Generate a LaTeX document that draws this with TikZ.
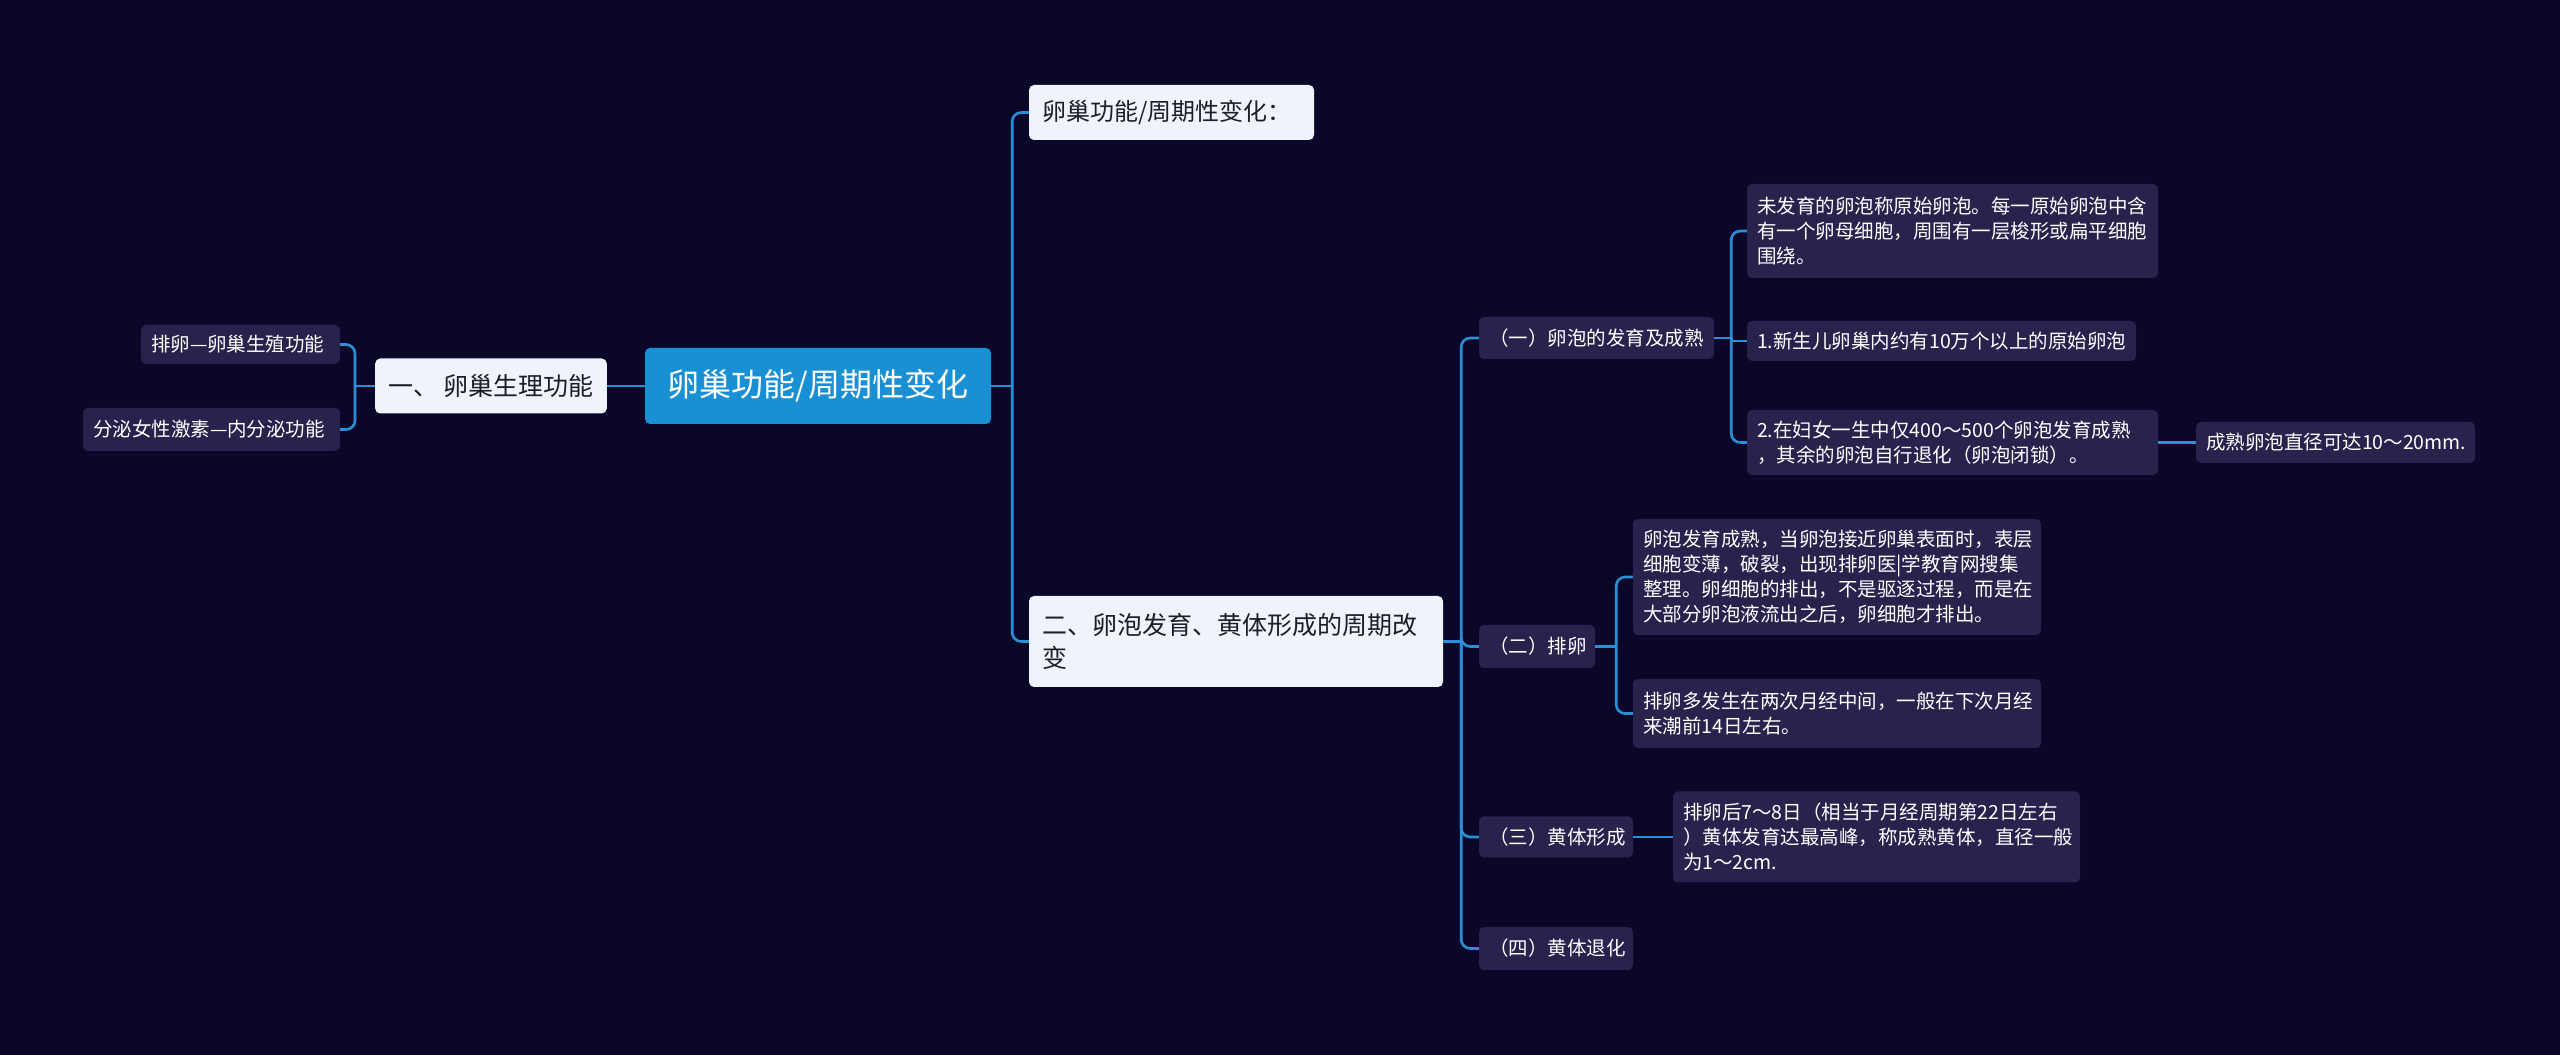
\documentclass[tikz,border=0pt]{standalone}
\usepackage{fontspec}
\setmainfont{Noto Sans CJK SC}
\usetikzlibrary{calc}
\definecolor{bg}{RGB}{11,7,41}
\definecolor{darkfill}{RGB}{39,35,77}
\definecolor{lightfill}{RGB}{238,243,252}
\definecolor{rootfill}{RGB}{26,144,212}
\definecolor{linkcol}{RGB}{43,143,216}
\definecolor{darktext}{RGB}{30,30,40}
\tikzset{
  base/.style={rounded corners=5pt, inner xsep=10pt, inner ysep=0pt, align=left},
  rootbox/.style={base, fill=rootfill, text=white, font=\fontsize{32}{40}\selectfont},
  lightbox/.style={base, inner xsep=13pt, fill=lightfill, text=darktext, font=\fontsize{25}{33}\selectfont},
  darkbox/.style={base, fill=darkfill, text=white, font=\fontsize{19.5}{25}\selectfont},
  link/.style={draw=linkcol, line width=2.6pt, rounded corners=9pt},
  straight/.style={draw=linkcol, line width=2.6pt}
}
\begin{document}
\begin{tikzpicture}[x=1pt,y=1pt]
\fill[bg] (0,0) rectangle (2560,1055);
\useasboundingbox (0,0) rectangle (2560,1055);

\node[rootbox, minimum width=346, minimum height=76] (root) at (818,669) {卵巢功能/周期性变化};
\node[lightbox, minimum width=230, minimum height=55] (n1) at (491,669) {一、 卵巢生理功能};
\node[darkbox, text width=179, minimum height=39] (l1) at (240.5,710.5) {排卵—卵巢生殖功能};
\node[darkbox, text width=237, minimum height=43] (l2) at (211.5,625.5) {分泌女性激素—内分泌功能};

\node[lightbox, font=\fontsize{24}{32}\selectfont, text width=259, minimum height=55] (t1) at (1171.5,942.5) {卵巢功能/周期性变化：};
\node[lightbox, text width=388, minimum height=91] (t2) at (1236,413.5) {二、卵泡发育、黄体形成的周期改\\变};

\node[darkbox, text width=215, minimum height=42] (a1) at (1596.5,717) {（一）卵泡的发育及成熟};
\node[darkbox, text width=391, minimum height=94] (b1) at (1952.5,824) {未发育的卵泡称原始卵泡。每一原始卵泡中含\\有一个卵母细胞，周围有一层梭形或扁平细胞\\围绕。};
\node[darkbox, text width=369, minimum height=40] (b2) at (1941.5,714) {1.新生儿卵巢内约有10万个以上的原始卵泡};
\node[darkbox, text width=391, minimum height=65] (b3) at (1952.5,612.5) {2.在妇女一生中仅400～500个卵泡发育成熟\\，其余的卵泡自行退化（卵泡闭锁）。};
\node[darkbox, text width=259, minimum height=41] (c1) at (2335.5,612.5) {成熟卵泡直径可达10～20mm.};

\node[darkbox, text width=96, minimum height=43] (a2) at (1537,408.5) {（二）排卵};
\node[darkbox, text width=388, minimum height=116] (b4) at (1837,478) {卵泡发育成熟，当卵泡接近卵巢表面时，表层\\细胞变薄，破裂，出现排卵医|学教育网搜集\\整理。卵细胞的排出，不是驱逐过程，而是在\\大部分卵泡液流出之后，卵细胞才排出。};
\node[darkbox, text width=388, minimum height=69] (b5) at (1837,341.5) {排卵多发生在两次月经中间，一般在下次月经\\来潮前14日左右。};

\node[darkbox, text width=134, minimum height=41] (a3) at (1556,218) {（三）黄体形成};
\node[darkbox, text width=387, minimum height=91] (b6) at (1876.5,218) {排卵后7～8日（相当于月经周期第22日左右\\）黄体发育达最高峰，称成熟黄体，直径一般\\为1～2cm.};
\node[darkbox, text width=134, minimum height=43] (a4) at (1556,106.5) {（四）黄体退化};

% trunk junction points
\coordinate (jn1) at ($(n1.west)+(-20,0)$);
\coordinate (jroot) at ($(root.east)+(21,0)$);
\coordinate (jt2) at ($(t2.east)+(18,0)$);
\coordinate (ja1) at ($(a1.east)+(17,0)$);
\coordinate (ja2) at ($(a2.east)+(21,0)$);

% connectors
\draw[straight] (root.west) -- (n1.east);
\draw[straight] (n1.west) -- (jn1);
\foreach \c in {l1,l2} \draw[link] (jn1) |- (\c.east);
\draw[straight] (root.east) -- (jroot);
\foreach \c in {t1,t2} \draw[link] (jroot) |- (\c.west);
\draw[straight] (t2.east) -- (jt2);
\foreach \c in {a1,a2,a3,a4} \draw[link] (jt2) |- (\c.west);
\draw[straight] (a1.east) -- (ja1);
\foreach \c in {b1,b3} \draw[link] (ja1) |- (\c.west);
\draw[straight] (ja1) |- (b2.west);
\draw[straight] (b3.east) -- (c1.west);
\draw[straight] (a2.east) -- (ja2);
\foreach \c in {b4,b5} \draw[link] (ja2) |- (\c.west);
\draw[straight] (a3.east) -- (b6.west);
\end{tikzpicture}
\end{document}
